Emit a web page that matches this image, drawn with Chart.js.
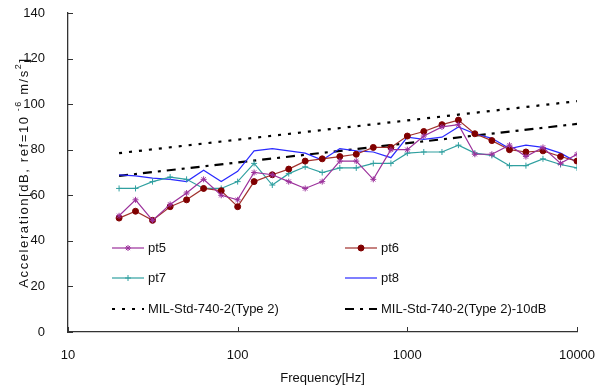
<!DOCTYPE html>
<html>
<head>
<meta charset="utf-8">
<script src="https://cdn.jsdelivr.net/npm/chart.js@4/dist/chart.umd.min.js"></script>
<style>
  html, body { margin: 0; padding: 0; background: #fff; }
  canvas { display: block; }
</style>
</head>
<body>
<canvas id="accelChart" width="602" height="389"></canvas>
<script>
// 1/3 octave centre frequencies [Hz]
const freqs = [20, 25, 31.5, 40, 50, 63, 80, 100, 125, 160, 200, 250, 315, 400,
  500, 630, 800, 1000, 1250, 1600, 2000, 2500, 3150, 4000, 5000, 6300, 8000, 10000];

// measured acceleration levels [dB]
const pt5 = [51, 58, 49, 56, 61, 67, 60, 58, 70, 69, 66, 63, 66, 75,
  75, 67, 80, 80, 86, 90, 91, 78, 78, 82, 77, 81, 74, 78];
const pt6 = [50, 53, 49, 55, 58, 63, 62, 55, 66, 69, 71.5, 75, 76, 77,
  78, 81, 81, 86, 88, 91, 93, 87, 84, 80, 79, 79.5, 77, 75];
const pt7 = [63, 63, 66, 68, 67, 63, 63, 66, 74, 64.5, 69.5, 72.5, 70, 72,
  72, 74, 74, 78.5, 79, 79, 82, 78.5, 77.5, 73, 73, 76, 73.5, 72];
const pt8 = [69, 68.5, 67.5, 67, 66, 71, 66, 70.5, 79.5, 80.5, 79.5, 78.5, 75.5, 80.5,
  79.5, 79, 76.5, 85.5, 84.5, 85.5, 90, 87, 85, 80.5, 82, 81, 78.5, 74.5];

// MIL-Std-740-2 limit lines (straight on the log axis)
const milFreqs = [20, 10000];
const milType2 = [78.5, 101.3];
const milType2Minus10 = [68.5, 91.3];

const xTickValues = [10, 100, 1000, 10000];

const toPoints = (xs, ys) => xs.map((x, i) => ({ x: x, y: ys[i] }));

const FONT = "'Liberation Sans', Arial, sans-serif";

// legend drawn inside the plot, two columns
const insideLegend = {
  id: "insideLegend",
  afterDatasetsDraw(chart, args, opts) {
    const ctx = chart.ctx;
    const area = chart.chartArea;
    chart.data.datasets.forEach((ds, i) => {
      const x0 = area.left + opts.colX[i % 2];
      const y = area.top + opts.rowY[Math.floor(i / 2)];
      ctx.save();
      ctx.strokeStyle = ds.borderColor;
      ctx.lineWidth = ds.borderWidth;
      ctx.setLineDash(ds.borderDash || []);
      ctx.beginPath();
      ctx.moveTo(x0, y);
      ctx.lineTo(x0 + opts.lineLen, y);
      ctx.stroke();
      ctx.setLineDash([]);
      if (ds.pointRadius > 0) {
        ctx.fillStyle = ds.pointBackgroundColor;
        ctx.strokeStyle = ds.pointBorderColor;
        ctx.lineWidth = 1;
        Chart.helpers.drawPoint(ctx, {
          pointStyle: ds.pointStyle, radius: ds.pointRadius, borderWidth: 1, rotation: 0
        }, x0 + opts.lineLen / 2, y);
      }
      ctx.fillStyle = "#111";
      ctx.font = "13px " + FONT;
      ctx.textBaseline = "middle";
      ctx.fillText(ds.label, x0 + opts.lineLen + 4, y);
      ctx.restore();
    });
  }
};

// short tick marks pointing into the plot, plus the y title with superscripts
const axisExtras = {
  id: "axisExtras",
  afterDraw(chart, args, opts) {
    const ctx = chart.ctx;
    const xs = chart.scales.x, ys = chart.scales.y;
    ctx.save();
    ctx.strokeStyle = "#333";
    ctx.lineWidth = 1;
    ctx.beginPath();
    xs.ticks.forEach((t) => {
      const px = Math.round(xs.getPixelForValue(t.value)) + 0.5;
      ctx.moveTo(px, xs.top);
      ctx.lineTo(px, xs.top - 5);
    });
    ys.ticks.forEach((t) => {
      const py = Math.round(ys.getPixelForValue(t.value)) + 0.5;
      ctx.moveTo(ys.right, py);
      ctx.lineTo(ys.right + 5, py);
    });
    ctx.stroke();

    // rotated y title, pieces: [text, superscript?]
    const parts = opts.yTitle;
    const big = "13px " + FONT, small = "9px " + FONT;
    ctx.letterSpacing = opts.spacing;
    let total = 0;
    parts.forEach((p) => {
      ctx.font = p[1] ? small : big;
      total += ctx.measureText(p[0]).width;
    });
    const cy = (chart.chartArea.top + chart.chartArea.bottom) / 2;
    ctx.translate(opts.titleX, cy);
    ctx.rotate(-Math.PI / 2);
    ctx.fillStyle = "#111";
    ctx.textBaseline = "middle";
    let x = -total / 2;
    parts.forEach((p) => {
      ctx.font = p[1] ? small : big;
      ctx.fillText(p[0], x, p[1] ? -5 : 0);
      x += ctx.measureText(p[0]).width;
    });
    ctx.restore();
  }
};

const lineSet = (label, ys, color, style, extra) => Object.assign({
  label: label,
  data: toPoints(freqs, ys),
  borderColor: color,
  borderWidth: 1.2,
  pointStyle: style,
  pointRadius: 3,
  pointBackgroundColor: color,
  pointBorderColor: color,
  pointBorderWidth: 1,
  tension: 0
}, extra || {});

const noPad = (scale) => {
  scale.paddingTop = 0;
  scale.paddingBottom = 0;
  scale.paddingLeft = 0;
  scale.paddingRight = 0;
};

new Chart(document.getElementById("accelChart"), {
  type: "line",
  data: {
    datasets: [
      lineSet("pt5", pt5, "#9b309b", "star"),
      lineSet("pt6", pt6, "#a0302c", "circle", { pointBackgroundColor: "#800000", pointBorderColor: "#800000" }),
      lineSet("pt7", pt7, "#30a0a0", "cross"),
      lineSet("pt8", pt8, "#2a2aff", "circle", { pointRadius: 0 }),
      {
        label: "MIL-Std-740-2(Type 2)",
        data: toPoints(milFreqs, milType2),
        borderColor: "#000",
        borderWidth: 2.2,
        borderDash: [3, 7],
        pointRadius: 0
      },
      {
        label: "MIL-Std-740-2(Type 2)-10dB",
        data: toPoints(milFreqs, milType2Minus10),
        borderColor: "#000",
        borderWidth: 2.2,
        borderDash: [9, 6, 3, 6],
        pointRadius: 0
      }
    ]
  },
  options: {
    responsive: false,
    animation: false,
    layout: { padding: { top: 13, right: 25, left: 0, bottom: 0 } },
    plugins: {
      legend: { display: false },
      tooltip: { enabled: false },
      insideLegend: { colX: [44, 277], rowY: [235, 265, 296], lineLen: 32 },
      axisExtras: {
        titleX: 24,
        spacing: "1.6px",
        yTitle: [["Acceleration[dB, ref=10", false], [" -6", true], [" m/s", false], ["2", true], ["]", false]]
      }
    },
    scales: {
      x: {
        type: "logarithmic",
        min: 10,
        max: 10000,
        afterBuildTicks: (scale) => {
          scale.ticks = xTickValues.map((v) => ({ value: v }));
        },
        afterFit: (scale) => { scale.height = 57; noPad(scale); },
        grid: { display: false, drawTicks: false },
        border: { display: true, color: "#333", width: 1.3 },
        ticks: {
          padding: 16,
          color: "#111",
          font: { family: FONT, size: 13 },
          maxRotation: 0,
          callback: (v) => String(v)
        },
        title: {
          display: true,
          text: "Frequency[Hz]",
          color: "#111",
          font: { family: FONT, size: 13 },
          padding: { top: 0, bottom: 3 }
        }
      },
      y: {
        min: 0,
        max: 140,
        afterFit: (scale) => { scale.width = 68; noPad(scale); },
        grid: { display: false, drawTicks: false },
        border: { display: true, color: "#333", width: 1.3 },
        ticks: {
          stepSize: 20,
          padding: 23,
          color: "#111",
          font: { family: FONT, size: 13 }
        }
      }
    }
  },
  plugins: [insideLegend, axisExtras]
});
</script>
</body>
</html>
